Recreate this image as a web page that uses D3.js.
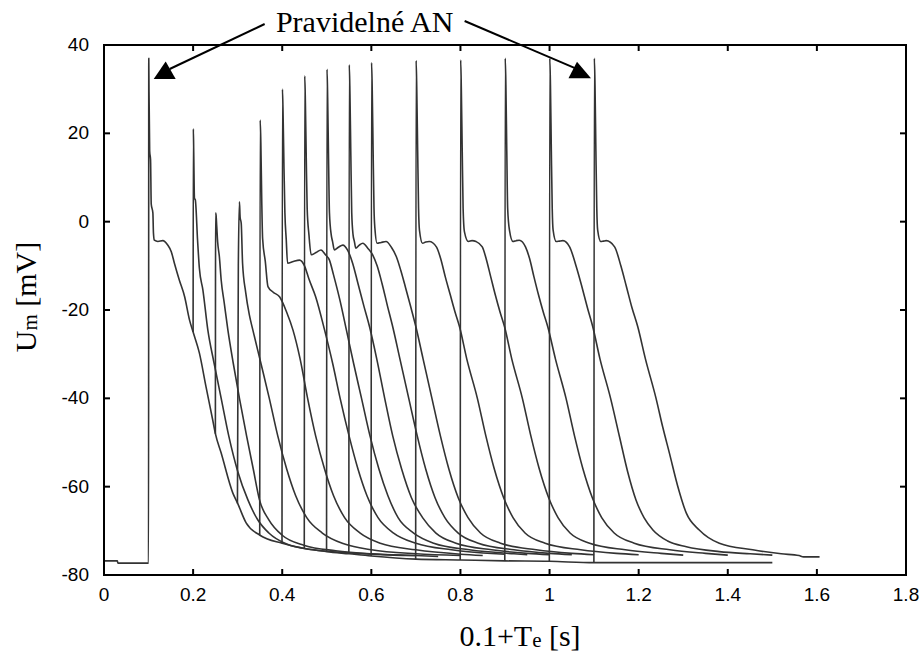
<!DOCTYPE html>
<html>
<head>
<meta charset="utf-8">
<script src="https://cdn.jsdelivr.net/npm/d3@7/dist/d3.min.js"></script>
<style>
  body { margin: 0; background: #fff; }
  .tick text { font-family: "Liberation Sans", Arial, sans-serif; font-size: 19px; fill: #000; }
  .serif { font-family: "Liberation Serif", "Times New Roman", serif; fill: #000; }
</style>
</head>
<body>
<div id="chart"></div>
<script>
// axis ticks
const xTicks = [0, 0.2, 0.4, 0.6, 0.8, 1, 1.2, 1.4, 1.6, 1.8];
const yTicks = [-80, -60, -40, -20, 0, 20, 40];

// first (regular) AP, continues to rest when no extra stimulus: [time s, Um mV]
const baseTrace = [[0,-76.8],[0.03,-76.8],[0.031,-77.3],[0.1,-77.3],[0.1005,37],[0.101,30],[0.1025,16],[0.1045,14],
  [0.106,4],[0.1097,2],[0.111,-2.6],[0.113,-4.2],[0.121,-4.5],[0.132,-4.3],[0.143,-5.3],[0.151,-6.8],[0.158,-9.4],
  [0.169,-13.2],[0.181,-17],[0.192,-22.3],[0.2,-25],[0.214,-29.7],[0.229,-37.4],[0.244,-44.9],[0.25,-48],[0.263,-52.4],
  [0.289,-61.4],[0.3,-63.8],[0.319,-68.2],[0.35,-71],[0.4,-72.8],[0.45,-74],[0.5,-74.7],[0.55,-75.2],[0.6,-75.7],
  [0.7,-76.4],[0.8,-76.6],[0.9,-76.8],[1.0,-76.9],[1.1,-77.2],[1.5,-77.2]];

// extra APs elicited at 0.1+Te
const ap020 = [[0.2,-25],[0.2005,21],[0.2015,15],[0.203,5.3],[0.205,4.9],[0.21,-4.2],[0.214,-10.5],[0.222,-15.5],
  [0.233,-24.5],[0.247,-32],[0.263,-40],[0.28,-48.5],[0.3,-56.5],[0.323,-63],[0.345,-67.5],[0.37,-70.5],[0.41,-73],
  [0.47,-74.3],[0.55,-75],[0.65,-75.5],[0.7,-75.6]];
const ap025 = [[0.25,-48],[0.2505,2],[0.2515,1.5],[0.253,-1],[0.255,-4.5],[0.259,-8],[0.263,-13.2],[0.27,-18.5],
  [0.278,-24.5],[0.29,-32],[0.304,-40],[0.32,-48.5],[0.335,-56],[0.349,-63],[0.37,-67.5],[0.4,-71],[0.45,-73.3],
  [0.52,-74.5],[0.6,-75.2],[0.7,-75.6],[0.75,-75.8]];
const ap030 = [[0.2995,-63.8],[0.3015,-10],[0.304,4.5],[0.3055,1],[0.308,-0.4],[0.311,-9.4],[0.318,-16],[0.326,-21],
  [0.334,-24.5],[0.352,-32],[0.371,-40],[0.39,-48.5],[0.41,-56],[0.43,-62],[0.455,-67],[0.49,-70.5],[0.54,-73],
  [0.6,-74.3],[0.7,-75.2],[0.8,-75.6]];
const ap035 = [[0.3495,-71],[0.3505,23],[0.352,18],[0.354,5],[0.356,-3.8],[0.362,-9],[0.368,-14.7],[0.38,-16],
  [0.394,-17],[0.41,-20.5],[0.424,-24.5],[0.44,-31],[0.457,-40],[0.475,-48.5],[0.495,-56],[0.515,-62],[0.54,-67],
  [0.575,-70.5],[0.62,-72.8],[0.7,-74.3],[0.8,-75.3],[0.85,-75.6]];
const ap040 = [[0.3995,-72.8],[0.4005,30],[0.402,24],[0.404,12],[0.406,2],[0.409,-4],[0.412,-9.4],[0.425,-9],
  [0.439,-8.7],[0.45,-10],[0.46,-13],[0.475,-17],[0.495,-24.5],[0.513,-32],[0.53,-40],[0.55,-48.5],[0.57,-56],
  [0.59,-62],[0.615,-67],[0.65,-70.5],[0.7,-72.8],[0.78,-74.3],[0.88,-75.2],[0.9,-75.3]];
const ap045 = [[0.4495,-74],[0.4505,33],[0.452,27],[0.454,14],[0.456,3],[0.46,-3],[0.465,-7.5],[0.476,-7],
  [0.487,-6.4],[0.497,-7.5],[0.506,-8.7],[0.515,-12],[0.53,-18],[0.544,-24.5],[0.56,-32],[0.578,-40],[0.597,-48.5],
  [0.617,-56],[0.637,-62],[0.66,-67],[0.695,-70.5],[0.74,-72.8],[0.82,-74.3],[0.92,-75.2],[0.95,-75.4]];
const ap050 = [[0.4995,-74.7],[0.5005,34.5],[0.502,28],[0.504,14],[0.506,2],[0.51,-3],[0.513,-4.5],[0.517,-6.4],
  [0.526,-5.8],[0.536,-5.3],[0.547,-6.5],[0.558,-9.4],[0.57,-14],[0.583,-19],[0.596,-23.8],[0.612,-31],[0.63,-40],
  [0.648,-48.5],[0.668,-56],[0.69,-62.5],[0.715,-67],[0.745,-70.5],[0.79,-72.8],[0.87,-74.3],[0.95,-75.1],[1.0,-75.4]];
const ap055 = [[0.5495,-75.2],[0.5505,35.5],[0.552,29],[0.554,15],[0.556,2],[0.559,-3],[0.562,-4.5],[0.565,-6],
  [0.573,-5.3],[0.581,-4.9],[0.592,-6],[0.603,-7.5],[0.613,-10],[0.624,-14],[0.636,-19],[0.648,-23.8],[0.664,-31],
  [0.684,-40],[0.703,-48.5],[0.722,-56],[0.743,-62.5],[0.765,-67],[0.795,-70.5],[0.84,-72.8],[0.92,-74.3],
  [1.0,-75.1],[1.05,-75.4]];
const ap060 = [[0.5995,-75.7],[0.6005,36],[0.602,30],[0.604,16],[0.606,3],[0.608,-1.5],[0.613,-4.9],[0.622,-4.7],
  [0.633,-4.5],[0.645,-5.8],[0.656,-7.9],[0.666,-11],[0.677,-15],[0.689,-19.5],[0.7,-23.8],[0.716,-31],[0.736,-40],
  [0.755,-48.5],[0.774,-56],[0.795,-62.5],[0.817,-67],[0.845,-70.5],[0.89,-72.8],[0.97,-74.3],[1.05,-75.1],[1.1,-75.4]];
const ap070 = [[0.6995,-76.4],[0.7005,36.5],[0.702,30],[0.704,16],[0.706,3],[0.708,-1.9],[0.715,-4.9],[0.722,-4.6],
  [0.73,-4.5],[0.746,-5.7],[0.756,-8.5],[0.766,-12.5],[0.777,-16.5],[0.788,-20.5],[0.798,-23.8],[0.814,-31],
  [0.838,-40],[0.857,-48.5],[0.876,-56],[0.897,-62.5],[0.918,-67],[0.945,-70.5],[0.99,-72.8],[1.07,-74.3],
  [1.15,-75.1],[1.2,-75.4]];
const ap080 = [[0.7995,-76.6],[0.8005,36.6],[0.802,30],[0.804,16],[0.806,3],[0.809,-2.3],[0.818,-4.5],[0.826,-4.3],
  [0.835,-4.5],[0.849,-5.7],[0.858,-8.5],[0.868,-12.5],[0.878,-16.5],[0.889,-20.5],[0.899,-23.8],[0.915,-31],
  [0.939,-40],[0.958,-48.5],[0.977,-56],[0.998,-62.5],[1.019,-67],[1.046,-70.5],[1.09,-72.8],[1.17,-74.3],
  [1.25,-75.1],[1.3,-75.5]];
const ap090 = [[0.8995,-76.8],[0.9005,37],[0.902,31],[0.904,16],[0.906,3],[0.91,-1.9],[0.918,-4.5],[0.925,-4.3],
  [0.932,-4.2],[0.946,-5.7],[0.955,-8.3],[0.965,-12.5],[0.975,-16.5],[0.986,-20.5],[0.996,-23.8],[1.013,-31],
  [1.037,-40],[1.056,-48.5],[1.075,-56],[1.096,-62.5],[1.117,-67],[1.145,-70.5],[1.19,-72.8],[1.27,-74.3],
  [1.35,-75.1],[1.4,-75.5]];
const ap100 = [[0.9995,-76.9],[1.0005,37],[1.002,31],[1.004,16],[1.006,3],[1.008,-1.9],[1.015,-4.5],[1.022,-4.4],
  [1.03,-4.3],[1.045,-5.7],[1.06,-10.2],[1.072,-14.5],[1.085,-19.5],[1.097,-23.8],[1.113,-31],[1.137,-40],
  [1.157,-48.7],[1.175,-56.5],[1.194,-63],[1.212,-67],[1.232,-69.8],[1.265,-72.3],[1.307,-73.6],[1.381,-74.7],
  [1.45,-75.2],[1.5,-75.5]];
const ap110 = [[1.0995,-77.2],[1.1005,37],[1.102,31],[1.104,16],[1.106,3],[1.108,-1.9],[1.115,-4.5],[1.121,-4.4],
  [1.127,-4.3],[1.146,-5.7],[1.16,-10],[1.172,-14.5],[1.185,-19.5],[1.198,-23.8],[1.215,-31],[1.239,-40],
  [1.254,-46.5],[1.269,-52.4],[1.288,-60],[1.307,-66],[1.336,-69.8],[1.381,-72.8],[1.456,-74.3],[1.52,-75.2],
  [1.56,-75.6],[1.57,-75.9],[1.606,-75.9]];

const traces = [baseTrace, ap020, ap025, ap030, ap035, ap040, ap045, ap050, ap055, ap060,
  ap070, ap080, ap090, ap100, ap110];

// annotation: label and the two APs it points at
const noteText = "Pravidelné AN";
const notePoints = [[0.1115, 32.3], [1.093, 32.5]];

const W = 922, H = 656;
const margin = { top: 45, right: 16, bottom: 81, left: 104 };
const width = W - margin.left - margin.right;
const height = H - margin.top - margin.bottom;

const svg = d3.select("#chart").append("svg")
  .attr("width", W)
  .attr("height", H);

const chart = svg.append("g")
  .attr("transform", `translate(${margin.left},${margin.top})`);

const x = d3.scaleLinear().domain([0, 1.8]).range([0, width]);
const y = d3.scaleLinear().domain([-80, 40]).range([height, 0]);

// axes, ticks pointing inwards on all four sides (plain hyphen for negatives)
const fmt = d => String(d);
chart.append("g")
  .attr("transform", `translate(0,${height})`)
  .call(d3.axisBottom(x).tickValues(xTicks).tickFormat(fmt).tickSizeInner(-6).tickSizeOuter(0).tickPadding(13).offset(0));
chart.append("g")
  .call(d3.axisTop(x).tickValues(xTicks).tickFormat("").tickSizeInner(-6).tickSizeOuter(0).offset(0));
chart.append("g")
  .call(d3.axisLeft(y).tickValues(yTicks).tickFormat(fmt).tickSizeInner(-6).tickSizeOuter(0).tickPadding(15).offset(0));
chart.append("g")
  .attr("transform", `translate(${width},0)`)
  .call(d3.axisRight(y).tickValues(yTicks).tickFormat("").tickSizeInner(-6).tickSizeOuter(0).offset(0));

chart.selectAll(".domain").remove();
chart.selectAll(".tick line").attr("stroke", "#000").attr("stroke-width", 2);

// traces
const line = d3.line()
  .x(d => x(d[0]))
  .y(d => y(d[1]))
  .curve(d3.curveMonotoneX);

chart.selectAll(".trace")
  .data(traces)
  .join("path")
  .attr("class", "trace")
  .attr("d", line)
  .attr("fill", "none")
  .attr("stroke", "#333")
  .attr("stroke-width", 1.6)
  .attr("stroke-linejoin", "round");

// frame
chart.append("rect")
  .attr("width", width)
  .attr("height", height)
  .attr("fill", "none")
  .attr("stroke", "#000")
  .attr("stroke-width", 2);

// annotation
const textX = x(0.585), textY = -13;
chart.append("text")
  .attr("class", "serif")
  .attr("x", textX)
  .attr("y", textY)
  .attr("text-anchor", "middle")
  .style("font-size", "30px")
  .text(noteText);

const starts = [[textX - 100, -21], [textX + 100, -24]];
notePoints.forEach((p, i) => {
  const tx = x(p[0]), ty = y(p[1]);
  const head = i === 0
    ? [[tx, ty], [tx + 12, ty - 17.5], [tx + 22, ty]]
    : [[tx, ty], [tx - 14, ty - 16.5], [tx - 22.5, ty]];
  const bx = i === 0 ? tx + 16 : tx - 16;
  chart.append("line")
    .attr("x1", starts[i][0]).attr("y1", starts[i][1])
    .attr("x2", bx).attr("y2", ty - 10)
    .attr("stroke", "#000").attr("stroke-width", 2);
  chart.append("polygon")
    .attr("points", head.map(d => d.join(",")).join(" "))
    .attr("fill", "#000");
});

// axis titles
const xl = svg.append("text")
  .attr("class", "serif")
  .attr("x", 520)
  .attr("y", 646)
  .attr("text-anchor", "middle")
  .style("font-size", "30px");
xl.append("tspan").text("0.1+T");
xl.append("tspan").attr("dy", 1).style("font-size", "21px").text("e");
xl.append("tspan").attr("dy", -1).text(" [s]");

const yl = svg.append("text")
  .attr("class", "serif")
  .attr("transform", "translate(36,297) rotate(-90)")
  .attr("text-anchor", "middle")
  .style("font-size", "30px");
yl.append("tspan").text("U");
yl.append("tspan").attr("dy", 1).style("font-size", "21px").text("m");
yl.append("tspan").attr("dy", -1).text(" [mV]");
</script>
</body>
</html>
